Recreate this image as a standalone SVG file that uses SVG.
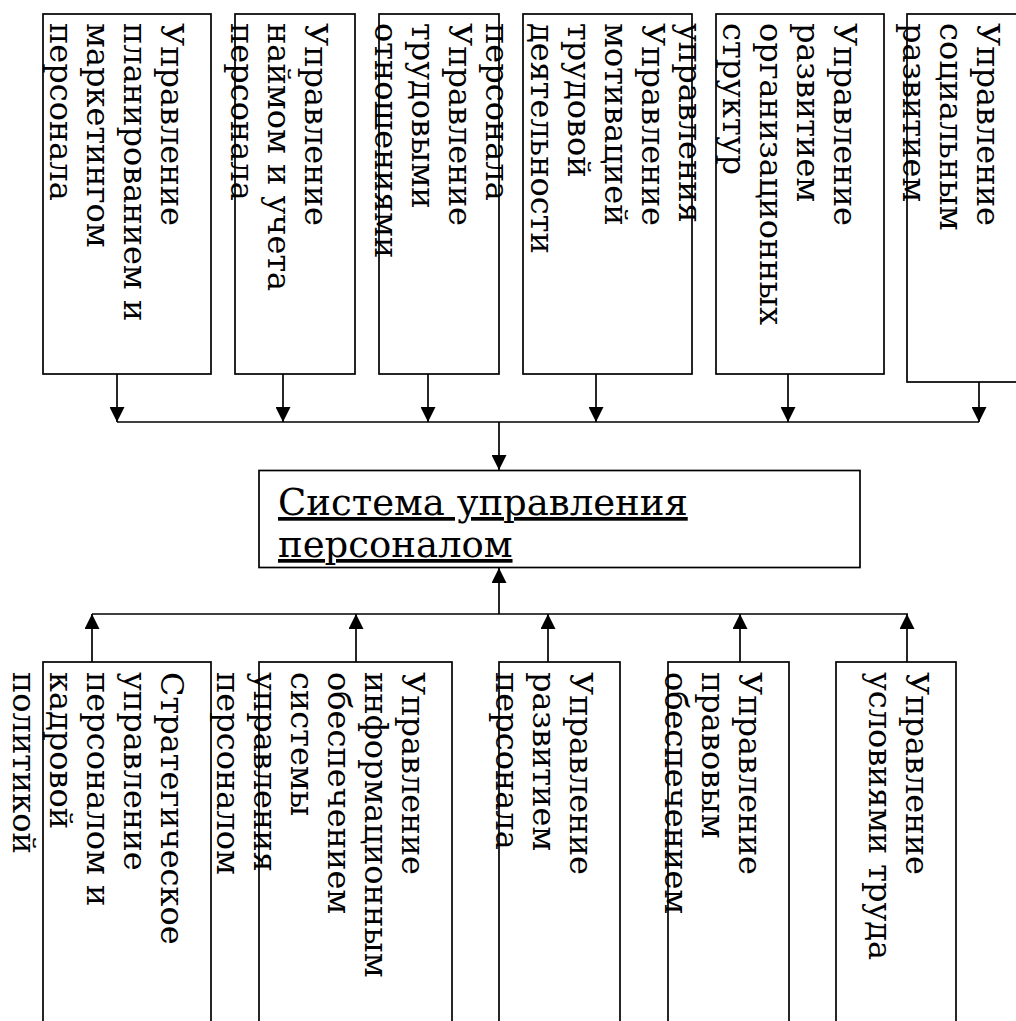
<svg xmlns="http://www.w3.org/2000/svg" width="1016" height="1021" viewBox="0 0 1016 1021">
<style>
.box{fill:#fff;stroke:#000;stroke-width:1.7}
.ln{fill:none;stroke:#000;stroke-width:1.7}
.t{font-family:"DejaVu Serif","Liberation Serif",serif;font-size:32px;fill:#000}
.c{font-family:"DejaVu Serif","Liberation Serif",serif;font-size:37px;fill:#000;text-decoration:underline}
</style>
<defs>
<marker id="ah" markerUnits="userSpaceOnUse" markerWidth="15" markerHeight="15" viewBox="0 0 15 15" refX="15" refY="7.5" orient="auto">
<path d="M0,0 L15,7.5 L0,15 z" fill="#000"/>
</marker>
</defs>
<rect width="1016" height="1021" fill="#fff"/>
<g id="top1"><rect class="box" x="43" y="14" width="168" height="360"/>
<text class="t" transform="translate(161,23) rotate(90)"><tspan x="0" y="0">Управление</tspan><tspan x="0" y="37">планированием и</tspan><tspan x="0" y="74">маркетингом</tspan><tspan x="0" y="111">персонала</tspan></text></g>
<g id="top2"><rect class="box" x="235" y="14" width="120" height="360"/>
<text class="t" transform="translate(305,23) rotate(90)"><tspan x="0" y="0">Управление</tspan><tspan x="0" y="37">наймом и учета</tspan><tspan x="0" y="74">персонала</tspan></text></g>
<g id="top3"><rect class="box" x="379" y="14" width="120" height="360"/>
<text class="t" transform="translate(486,23) rotate(90)"><tspan x="0" y="0">персонала</tspan><tspan x="0" y="37">Управление</tspan><tspan x="0" y="74">трудовыми</tspan><tspan x="0" y="111">отношениями</tspan></text></g>
<g id="top4"><rect class="box" x="523" y="14" width="169" height="360"/>
<text class="t" transform="translate(679,23) rotate(90)"><tspan x="0" y="0">управления</tspan><tspan x="0" y="37">Управление</tspan><tspan x="0" y="74">мотивацией</tspan><tspan x="0" y="111">трудовой</tspan><tspan x="0" y="148">деятельности</tspan></text></g>
<g id="top5"><rect class="box" x="716" y="14" width="168" height="360"/>
<text class="t" transform="translate(834,23) rotate(90)"><tspan x="0" y="0">Управление</tspan><tspan x="0" y="37">развитием</tspan><tspan x="0" y="74">организационных</tspan><tspan x="0" y="111">структур</tspan></text></g>
<g id="top6"><rect class="box" x="907" y="14" width="121" height="368"/>
<text class="t" transform="translate(977,23) rotate(90)"><tspan x="0" y="0">Управление</tspan><tspan x="0" y="37">социальным</tspan><tspan x="0" y="74">развитием</tspan></text></g>
<g id="center"><rect class="box" x="259" y="470.5" width="601" height="97"/>
<text class="c"><tspan x="278" y="515">Система управления</tspan><tspan x="278" y="557">персоналом</tspan></text></g>
<g id="bot1"><rect class="box" x="43" y="662" width="168" height="380"/>
<text class="t" transform="translate(161,672) rotate(90)"><tspan x="0" y="0">Стратегическое</tspan><tspan x="0" y="37">управление</tspan><tspan x="0" y="74">персоналом и</tspan><tspan x="0" y="111">кадровой</tspan><tspan x="0" y="148">политикой</tspan></text></g>
<g id="bot2"><rect class="box" x="259" y="662" width="193" height="380"/>
<text class="t" transform="translate(402,672) rotate(90)"><tspan x="0" y="0">Управление</tspan><tspan x="0" y="37">информационным</tspan><tspan x="0" y="74">обеспечением</tspan><tspan x="0" y="111">системы</tspan><tspan x="0" y="148">управления</tspan><tspan x="0" y="185">персоналом</tspan></text></g>
<g id="bot3"><rect class="box" x="499" y="662" width="121" height="380"/>
<text class="t" transform="translate(570,672) rotate(90)"><tspan x="0" y="0">Управление</tspan><tspan x="0" y="37">развитием</tspan><tspan x="0" y="74">персонала</tspan></text></g>
<g id="bot4"><rect class="box" x="668" y="662" width="121" height="380"/>
<text class="t" transform="translate(739,672) rotate(90)"><tspan x="0" y="0">Управление</tspan><tspan x="0" y="37">правовым</tspan><tspan x="0" y="74">обеспечением</tspan></text></g>
<g id="bot5"><rect class="box" x="836" y="662" width="120" height="380"/>
<text class="t" transform="translate(906,672) rotate(90)"><tspan x="0" y="0">Управление</tspan><tspan x="0" y="37">условиями труда</tspan></text></g>
<g id="connectors">
<line class="ln" x1="117" y1="422" x2="979" y2="422"/>
<line class="ln" x1="117" y1="374" x2="117" y2="422" marker-end="url(#ah)"/>
<line class="ln" x1="283" y1="374" x2="283" y2="422" marker-end="url(#ah)"/>
<line class="ln" x1="428" y1="374" x2="428" y2="422" marker-end="url(#ah)"/>
<line class="ln" x1="596" y1="374" x2="596" y2="422" marker-end="url(#ah)"/>
<line class="ln" x1="788" y1="374" x2="788" y2="422" marker-end="url(#ah)"/>
<line class="ln" x1="979" y1="382" x2="979" y2="422" marker-end="url(#ah)"/>
<line class="ln" x1="499" y1="422" x2="499" y2="470" marker-end="url(#ah)"/>
<line class="ln" x1="499" y1="614" x2="499" y2="568" marker-end="url(#ah)"/>
<line class="ln" x1="92" y1="614" x2="908" y2="614"/>
<line class="ln" x1="92" y1="662" x2="92" y2="614" marker-end="url(#ah)"/>
<line class="ln" x1="356" y1="662" x2="356" y2="614" marker-end="url(#ah)"/>
<line class="ln" x1="548" y1="662" x2="548" y2="614" marker-end="url(#ah)"/>
<line class="ln" x1="740" y1="662" x2="740" y2="614" marker-end="url(#ah)"/>
<line class="ln" x1="907" y1="662" x2="907" y2="614" marker-end="url(#ah)"/>
</g>
</svg>
